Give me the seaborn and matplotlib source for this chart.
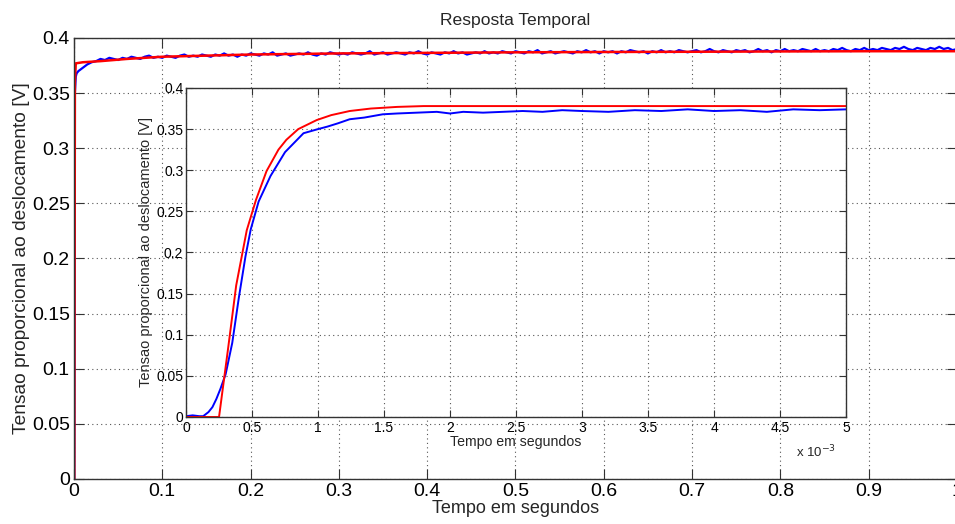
import numpy as np
import pandas as pd
import seaborn as sns
import matplotlib.pyplot as plt

sns.set_theme(style='ticks')
plt.rcParams['font.family'] = ['Liberation Sans', 'DejaVu Sans']

# main plot: measured (blue) and model (red), time in seconds
t_start = [0, 0.0003, 0.001, 0.002, 0.003]
v_start = [0, 0, 0.350, 0.365, 0.368]
t_step = 0.005
v_meas = [
    0.370, 0.373, 0.376, 0.378, 0.379, 0.381, 0.380, 0.382, 0.381, 0.380,
    0.382, 0.381, 0.383, 0.382, 0.381, 0.383, 0.384, 0.382, 0.383, 0.382,
    0.384, 0.383, 0.382, 0.384, 0.385, 0.383, 0.384, 0.383, 0.385, 0.384,
    0.383, 0.385, 0.384, 0.386, 0.384, 0.385, 0.383, 0.385, 0.384, 0.386,
    0.385, 0.384, 0.386, 0.385, 0.387, 0.384, 0.385, 0.386, 0.384, 0.385,
    0.386, 0.385, 0.387, 0.385, 0.384, 0.386, 0.385, 0.387, 0.386, 0.385,
    0.386, 0.385, 0.387, 0.386, 0.385, 0.386, 0.388, 0.385, 0.386, 0.387,
    0.385, 0.386, 0.387, 0.386, 0.385, 0.387, 0.386, 0.388, 0.386, 0.385,
    0.387, 0.386, 0.385, 0.387, 0.386, 0.388, 0.386, 0.387, 0.385, 0.386,
    0.387, 0.386, 0.388, 0.386, 0.387, 0.386, 0.388, 0.387, 0.386, 0.388,
    0.387, 0.386, 0.388, 0.387, 0.389, 0.386, 0.387, 0.388, 0.386, 0.387,
    0.388, 0.387, 0.386, 0.388, 0.387, 0.389, 0.387, 0.388, 0.386, 0.388,
    0.387, 0.388, 0.386, 0.388, 0.387, 0.389, 0.388, 0.387, 0.388, 0.386,
    0.388, 0.387, 0.389, 0.387, 0.388, 0.387, 0.389, 0.388, 0.387, 0.388,
    0.389, 0.387, 0.388, 0.390, 0.388, 0.387, 0.389, 0.388, 0.387, 0.389,
    0.388, 0.389, 0.387, 0.388, 0.390, 0.388, 0.389, 0.387, 0.389, 0.388,
    0.390, 0.388, 0.389, 0.388, 0.390, 0.389, 0.388, 0.390, 0.388, 0.389,
    0.388, 0.390, 0.389, 0.391, 0.389, 0.388, 0.390, 0.389, 0.391, 0.389,
    0.390, 0.389, 0.391, 0.390, 0.389, 0.391, 0.390, 0.392, 0.390, 0.389,
    0.391, 0.390, 0.389, 0.391, 0.390, 0.392, 0.390, 0.391, 0.389, 0.390,
]
t_model = [0, 0.0003, 0.001, 0.002, 0.01, 0.03, 0.06, 0.1, 0.15, 0.2,
           0.3, 0.4, 0.5, 0.6, 0.7, 0.8, 0.9, 1.0]
v_model = [0, 0, 0.360, 0.377, 0.378, 0.379, 0.381, 0.383, 0.384, 0.385,
           0.386, 0.3865, 0.387, 0.3873, 0.3875, 0.3878, 0.388, 0.388]

# inset: first 5 ms (time in ms)
t_in_meas = [0, 0.05, 0.1, 0.13, 0.17, 0.2, 0.23, 0.26, 0.3, 0.35, 0.4, 0.45,
             0.49, 0.55, 0.64, 0.75, 0.89, 1.0, 1.07, 1.15, 1.24, 1.35, 1.49,
             1.6, 1.75, 1.9, 2.0, 2.1, 2.25, 2.4, 2.55, 2.7, 2.85, 3.0, 3.2,
             3.4, 3.6, 3.8, 4.0, 4.2, 4.4, 4.6, 4.8, 5.0]
v_in_meas = [0.001, 0.002, 0.001, 0.001, 0.006, 0.012, 0.022, 0.034, 0.052,
             0.090, 0.145, 0.195, 0.228, 0.262, 0.293, 0.322, 0.345, 0.350,
             0.353, 0.357, 0.362, 0.364, 0.368, 0.369, 0.370, 0.371, 0.369,
             0.371, 0.370, 0.371, 0.372, 0.371, 0.373, 0.372, 0.371, 0.373,
             0.372, 0.374, 0.372, 0.373, 0.371, 0.374, 0.373, 0.374]
t_in_model = [0, 0.25, 0.32, 0.38, 0.46, 0.53, 0.61, 0.7, 0.76, 0.85, 0.99,
              1.1, 1.24, 1.4, 1.6, 1.8, 2.0, 3.0, 4.0, 5.0]
v_in_model = [0, 0, 0.085, 0.160, 0.227, 0.264, 0.299, 0.325, 0.337, 0.350,
              0.361, 0.367, 0.372, 0.375, 0.377, 0.378, 0.378, 0.378, 0.378,
              0.378]

main_xticks = [0, 0.1, 0.2, 0.3, 0.4, 0.5, 0.6, 0.7, 0.8, 0.9, 1]
y_ticks = [0, 0.05, 0.1, 0.15, 0.2, 0.25, 0.3, 0.35, 0.4]
inset_xticks = [0, 0.5, 1, 1.5, 2, 2.5, 3, 3.5, 4, 4.5, 5]

ink = '#333333'


def style_axes(ax, fs, tl):
    for s in ax.spines.values():
        s.set_color(ink)
        s.set_linewidth(1.0)
    ax.tick_params(direction='in', top=True, right=True, colors=ink,
                   labelcolor='black', labelsize=fs, length=tl, width=0.8)
    ax.grid(True, linestyle=(0, (1, 3)), color='#555555', linewidth=0.8)


t_meas = t_start + list(np.linspace(t_step, 1.0, len(v_meas)))
df_main = pd.DataFrame({'t': t_meas, 'v': v_start + v_meas})
df_model = pd.DataFrame({'t': t_model, 'v': v_model})

fig = plt.figure(figsize=(9.55, 5.24), dpi=100)
ax = fig.add_axes([0.0775, 0.0859, 0.9245, 0.8416])
sns.lineplot(data=df_main, x='t', y='v', ax=ax, color='#0000ff', linewidth=1.6,
             estimator=None, sort=False)
sns.lineplot(data=df_model, x='t', y='v', ax=ax, color='#ff0000', linewidth=1.8,
             estimator=None, sort=False)
ax.set_xlim(0, 1)
ax.set_ylim(0, 0.4)
ax.set_xticks(main_xticks)
ax.set_xticklabels(['0', '0.1', '0.2', '0.3', '0.4', '0.5', '0.6', '0.7', '0.8', '0.9', '1'])
ax.set_yticks(y_ticks)
ax.set_yticklabels(['0', '0.05', '0.1', '0.15', '0.2', '0.25', '0.3', '0.35', '0.4'])
style_axes(ax, 14, 7)
ax.tick_params(axis='x', pad=3)
ax.tick_params(axis='y', pad=3)
ax.set_xlabel('Tempo em segundos', fontsize=13, labelpad=0)
ax.set_ylabel('Tensao proporcional ao deslocamento [V]', fontsize=13.8, labelpad=1)
ax.set_title('Resposta Temporal', fontsize=12.6, pad=9)

df_in_meas = pd.DataFrame({'t': t_in_meas, 'v': v_in_meas})
df_in_model = pd.DataFrame({'t': t_in_model, 'v': v_in_model})
axi = fig.add_axes([0.1948, 0.2042, 0.6911, 0.6279])
axi.set_facecolor('white')
sns.lineplot(data=df_in_meas, x='t', y='v', ax=axi, color='#0000ff', linewidth=1.4,
             estimator=None, sort=False)
sns.lineplot(data=df_in_model, x='t', y='v', ax=axi, color='#ff0000', linewidth=1.4,
             estimator=None, sort=False)
axi.set_xlim(0, 5)
axi.set_ylim(0, 0.4)
axi.set_xticks(inset_xticks)
axi.set_xticklabels(['0', '0.5', '1', '1.5', '2', '2.5', '3', '3.5', '4', '4.5', '5'])
axi.set_yticks(y_ticks)
axi.set_yticklabels(['0', '0.05', '0.1', '0.15', '0.2', '0.25', '0.3', '0.35', '0.4'])
style_axes(axi, 10, 5)
axi.tick_params(axis='x', pad=3)
axi.tick_params(axis='y', pad=2)
axi.set_xlabel('Tempo em segundos', fontsize=10.2, labelpad=0)
axi.set_ylabel('Tensao proporcional ao deslocamento [V]', fontsize=10.5, labelpad=2)
axi.text(0.985, -0.105, r'x 10$^{-3}$', transform=axi.transAxes, fontsize=9.5,
         ha='right', va='center')

fig.savefig('out.png', dpi=100)
